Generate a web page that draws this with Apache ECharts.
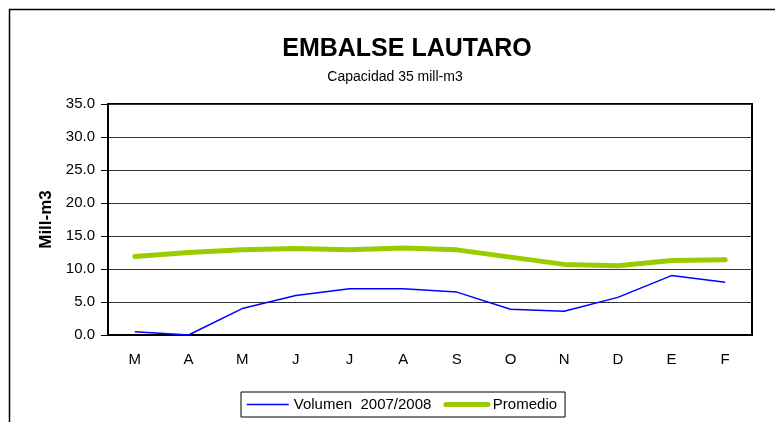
<!DOCTYPE html>
<html><head><meta charset="utf-8">
<script src="https://cdn.jsdelivr.net/npm/echarts@6/dist/echarts.min.js"></script>
<style>html,body{margin:0;padding:0;background:#fff}#c{width:775px;height:422px}</style>
</head><body><div id="c"></div>
<script>
const months = ['M','A','M','J','J','A','S','O','N','D','E','F'];
const volumen = [0.5, 0.0, 4.0, 6.0, 7.0, 7.0, 6.5, 3.9, 3.6, 5.7, 9.0, 8.0];
const promedio = [11.9, 12.5, 12.9, 13.1, 12.9, 13.2, 12.9, 11.8, 10.7, 10.5, 11.3, 11.4];
const yTicks = [0, 5, 10, 15, 20, 25, 30, 35];

const chart = echarts.init(document.getElementById('c'));
const font = 'Liberation Sans, Arial, sans-serif';
chart.setOption({
  animation: false,
  textStyle: { fontFamily: font },
  title: [
    { text: 'EMBALSE LAUTARO', left: 402, top: 32, textAlign: 'center',
      textStyle: { fontSize: 25, fontWeight: 'bold', color: '#000', fontFamily: font } },
    { text: 'Capacidad 35 mill-m3', left: 390, top: 65, textAlign: 'center',
      textStyle: { fontSize: 14, fontWeight: 'normal', color: '#000', fontFamily: font } }
  ],
  graphic: [
    { type: 'line', shape: { x1: 9, y1: 9.5, x2: 775, y2: 9.5 }, style: { stroke: '#000', lineWidth: 1.5 } },
    { type: 'line', shape: { x1: 9.5, y1: 9, x2: 9.5, y2: 422 }, style: { stroke: '#000', lineWidth: 1.5 } }
  ],
  grid: { left: 108, right: 23, top: 104, bottom: 87, show: true, borderColor: '#000', borderWidth: 2 },
  legend: {
    left: 241, top: 392,
    padding: [5, 8, 5, 5], itemGap: 12,
    borderColor: '#000', borderWidth: 1,
    itemWidth: 42, itemHeight: 6,
    textStyle: { fontSize: 15, color: '#000', fontFamily: font },
    data: [
      { name: 'Volumen  2007/2008', itemStyle: { opacity: 0 }, lineStyle: { width: 1.5, color: '#0000ff' } },
      { name: 'Promedio', itemStyle: { opacity: 0 }, lineStyle: { width: 5, color: '#99cc00', cap: 'round' } }
    ]
  },
  xAxis: {
    type: 'category', data: months, boundaryGap: true,
    axisLine: { lineStyle: { color: '#000', width: 2 } },
    axisTick: { inside: true, length: 5, lineStyle: { color: '#000', width: 1.5 } },
    axisLabel: { color: '#000', fontSize: 15, margin: 17, fontFamily: font }
  },
  yAxis: {
    type: 'value', min: 0, max: 35, interval: 5,
    name: 'Mill-m3', nameLocation: 'middle', nameGap: 53, nameRotate: 90,
    nameTextStyle: { fontSize: 17, fontWeight: 'bold', color: '#000', fontFamily: font },
    axisLine: { show: true, lineStyle: { color: '#000', width: 2 } },
    axisTick: { show: true, length: 7, lineStyle: { color: '#000' } },
    axisLabel: { color: '#000', fontSize: 15, margin: 13, formatter: v => v.toFixed(1), fontFamily: font },
    splitLine: { lineStyle: { color: '#333', width: 1 } }
  },
  series: [
    { name: 'Volumen  2007/2008', type: 'line', data: volumen, symbol: 'none',
      lineStyle: { color: '#0000ff', width: 1.5 }, itemStyle: { color: '#0000ff' } },
    { name: 'Promedio', type: 'line', data: promedio, symbol: 'none',
      lineStyle: { color: '#99cc00', width: 5, cap: 'round', join: 'round' }, itemStyle: { color: '#99cc00' } }
  ]
});
</script></body></html>
